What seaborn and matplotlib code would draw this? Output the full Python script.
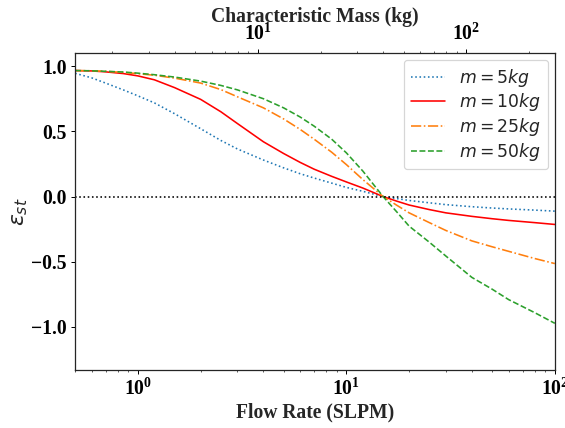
import numpy as np
import pandas as pd
import matplotlib
matplotlib.use("Agg")
import matplotlib.pyplot as plt
import seaborn as sns

flow = [0.5, 0.6, 0.7, 0.85, 1.0, 1.2, 1.5, 2.0, 2.5, 3.0, 4.0, 5.0, 6.0, 7.0, 8.5,
        10.0, 12.0, 15.0, 17.5, 20.0, 25.0, 30.0, 40.0, 50.0, 60.0, 80.0, 100.0]

# epsilon_st for each characteristic mass
eps_m5 = [0.945, 0.910, 0.870, 0.818, 0.772, 0.718, 0.635, 0.520, 0.430, 0.365, 0.280, 0.220, 0.175,
          0.142, 0.103, 0.070, 0.040, 0.000, -0.016, -0.030, -0.048, -0.062, -0.078, -0.088, -0.095,
          -0.104, -0.112]
eps_m10 = [0.966, 0.963, 0.956, 0.943, 0.925, 0.895, 0.835, 0.745, 0.650, 0.560, 0.420, 0.330, 0.262,
           0.210, 0.155, 0.112, 0.065, 0.000, -0.036, -0.065, -0.100, -0.125, -0.152, -0.170, -0.183,
           -0.200, -0.214]
eps_m25 = [0.966, 0.964, 0.960, 0.952, 0.942, 0.930, 0.908, 0.870, 0.820, 0.765, 0.680, 0.595, 0.515,
           0.440, 0.340, 0.245, 0.130, 0.000, -0.068, -0.125, -0.200, -0.260, -0.340, -0.385, -0.420,
           -0.475, -0.514]
eps_m50 = [0.966, 0.964, 0.960, 0.955, 0.946, 0.934, 0.916, 0.885, 0.852, 0.818, 0.750, 0.680, 0.610,
           0.540, 0.440, 0.335, 0.195, 0.000, -0.120, -0.227, -0.350, -0.456, -0.620, -0.710, -0.790,
           -0.890, -0.972]

labels = ["$m = 5kg$", "$m = 10kg$", "$m = 25kg$", "$m = 50kg$"]

# top axis range (characteristic mass, kg)
mass_lim = (1.33, 266.0)


def bold_ticks(axis):
    for lab in axis.get_ticklabels(which="both"):
        lab.set_fontweight("bold")
        lab.set_fontsize(16)


def main():
    sns.set_style("ticks")
    plt.rcParams["font.family"] = ["Liberation Serif", "DejaVu Sans"]
    plt.rcParams["font.size"] = 16
    plt.rcParams["mathtext.fontset"] = "dejavusans"
    plt.rcParams["xtick.direction"] = "out"
    plt.rcParams["ytick.direction"] = "out"

    dpi = 88.5
    fig = plt.figure(figsize=(565 / dpi, 428 / dpi), dpi=dpi)
    ax = fig.add_axes([0.133, 0.1355, 0.849, 0.7405])

    series = [eps_m5, eps_m10, eps_m25, eps_m50]
    colors = ["#1f77b4", "red", "#ff7f0e", "#2ca02c"]
    styles = [":", "-", "-.", "--"]
    for vals, lab, col, ls in zip(series, labels, colors, styles):
        sns.lineplot(x=flow, y=vals, ax=ax, color=col, linestyle=ls,
                     label=lab, linewidth=1.3)

    ax.axhline(0, color="black", linestyle=":", linewidth=1.3)

    ax.set_xscale("log")
    ax.set_xlim(flow[0], flow[-1])
    ax.set_ylim(-1.33, 1.1)
    ax.set_yticks([-1.0, -0.5, 0.0, 0.5, 1.0])
    ax.set_xlabel("Flow Rate (SLPM)", fontsize=16, fontweight="bold", labelpad=2)
    ax.set_ylabel(r"$\varepsilon_{st}$", fontsize=18, labelpad=1)

    for sp in ax.spines.values():
        sp.set_color("black")
        sp.set_linewidth(1.0)
    ax.tick_params(colors="black")

    leg = ax.legend(loc="upper right", fontsize=14, handlelength=2.0,
                    labelspacing=0.15, borderaxespad=0.4)
    leg.get_frame().set_edgecolor("#cccccc")

    ax2 = ax.twiny()
    ax2.set_xscale("log")
    ax2.set_xlim(*mass_lim)
    ax2.set_xlabel("Characteristic Mass (kg)", fontsize=16, fontweight="bold", labelpad=1)
    ax2.tick_params(colors="black")

    fig.canvas.draw()
    bold_ticks(ax.xaxis)
    bold_ticks(ax.yaxis)
    bold_ticks(ax2.xaxis)

    fig.savefig("out.png", dpi=dpi)


if __name__ == "__main__":
    main()
